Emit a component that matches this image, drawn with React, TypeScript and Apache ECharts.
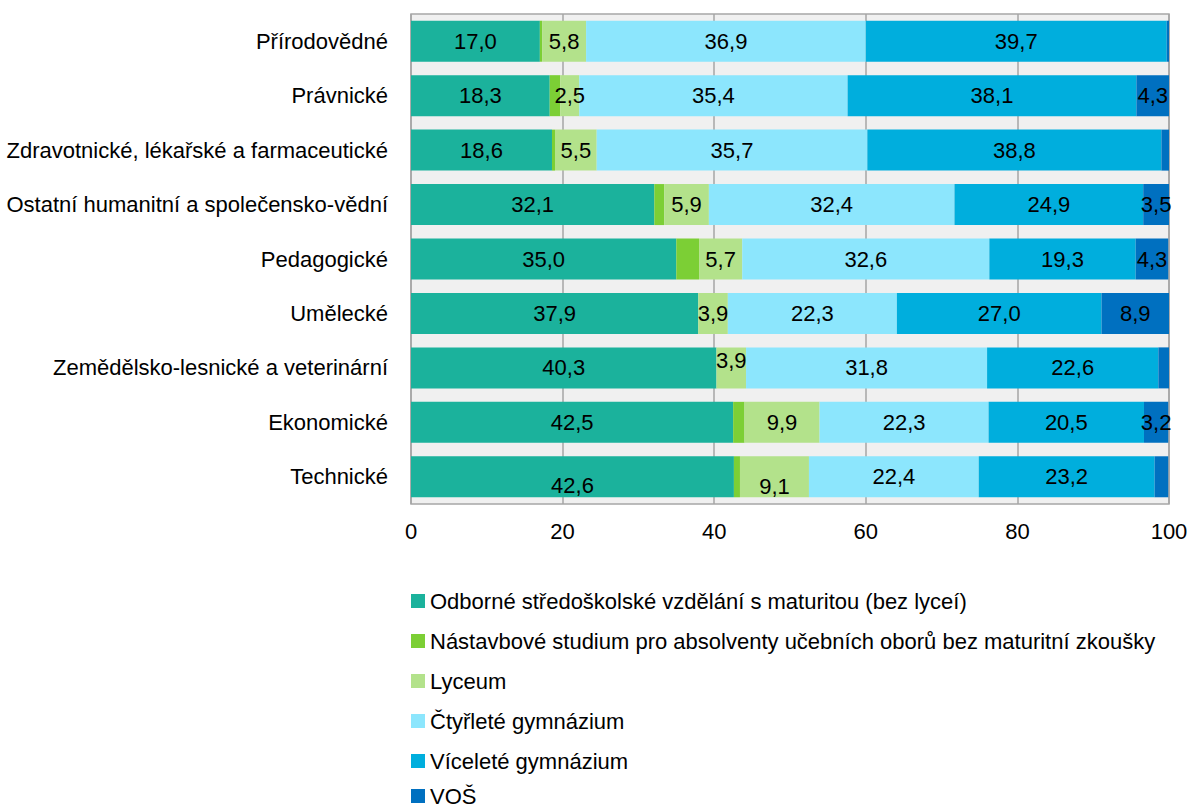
import React, { useEffect, useRef } from "react";
import * as echarts from "echarts";

const categories = [
  "Přírodovědné",
  "Právnické",
  "Zdravotnické, lékařské a farmaceutické",
  "Ostatní humanitní a společensko-vědní",
  "Pedagogické",
  "Umělecké",
  "Zemědělsko-lesnické a veterinární",
  "Ekonomické",
  "Technické",
];

const seriesNames = [
  "Odborné středoškolské vzdělání s maturitou (bez lyceí)",
  "Nástavbové studium pro absolventy učebních oborů bez maturitní zkoušky",
  "Lyceum",
  "Čtyřleté gymnázium",
  "Víceleté gymnázium",
  "VOŠ",
];

const odborne = [17.0, 18.3, 18.6, 32.1, 35.0, 37.9, 40.3, 42.5, 42.6];
const nastavbove = [0.3, 1.4, 0.4, 1.3, 3.0, 0.0, 0.0, 1.5, 0.8];
const lyceum = [5.8, 2.5, 5.5, 5.9, 5.7, 3.9, 3.9, 9.9, 9.1];
const ctyrlete = [36.9, 35.4, 35.7, 32.4, 32.6, 22.3, 31.8, 22.3, 22.4];
const vicelete = [39.7, 38.1, 38.8, 24.9, 19.3, 27.0, 22.6, 20.5, 23.2];
const vos = [0.3, 4.3, 1.1, 3.5, 4.3, 8.9, 1.4, 3.2, 1.8];

const seriesValues = [odborne, nastavbove, lyceum, ctyrlete, vicelete, vos];
const colors = ["#1bb29c", "#7ccf35", "#b3e28b", "#8ce6fd", "#00aedd", "#0070c0"];
const showLabels = [true, false, true, true, true, true];
// manual label nudges seen in the reference: [seriesIndex, categoryIndex, dx, dy]
const labelNudges: [number, number, number, number][] = [
  [0, 8, 0, 9],
  [2, 8, 0, 10],
  [2, 6, 0, -7],
];

const FONT = "'Liberation Sans', Arial, sans-serif";
const FS = 22;

export default function App() {
  const ref = useRef<HTMLDivElement>(null);
  useEffect(() => {
    if (!ref.current) return;
    const chart = echarts.init(ref.current, undefined, { renderer: "svg" });
    const fmt = (v: number) => v.toFixed(1).replace(".", ",");
    const series = seriesValues.map((vals, si) => ({
      name: seriesNames[si],
      type: "bar",
      stack: "total",
      barWidth: 41,
      itemStyle: { color: colors[si] },
      label: {
        show: showLabels[si],
        position: "inside",
        color: "#000",
        fontFamily: FONT,
        fontSize: FS,
        formatter: (p: any) => (p.value >= 2 ? fmt(p.value) : ""),
      },
      data: vals.map((v, ci) => {
        const n = labelNudges.find((x) => x[0] === si && x[1] === ci);
        return n ? { value: v, label: { offset: [n[2], n[3]] } } : v;
      }),
    }));
    const legendBase = {
      type: "plain",
      orient: "vertical",
      left: 406,
      icon: "rect",
      itemWidth: 14,
      itemHeight: 14,
      itemGap: 18,
      textStyle: { color: "#000", fontSize: FS, fontFamily: FONT },
    };
    chart.setOption({
      animation: false,
      textStyle: { fontFamily: FONT },
      grid: {
        left: 411,
        top: 14,
        right: 23,
        bottom: 306,
        show: true,
        backgroundColor: "#f0f0f0",
        borderColor: "#a6a6a6",
        borderWidth: 1.5,
        containLabel: false,
        outerBoundsMode: "none",
      },
      xAxis: {
        type: "value",
        min: 0,
        max: 100,
        interval: 20,
        axisLine: { show: false },
        axisTick: { show: false },
        splitLine: { show: true, lineStyle: { color: "#a6a6a6", width: 1.5 } },
        axisLabel: { color: "#000", fontSize: FS, fontFamily: FONT, margin: 16 },
      },
      yAxis: {
        type: "category",
        inverse: true,
        data: categories,
        axisLine: { show: false },
        axisTick: { show: false },
        axisLabel: { color: "#000", fontSize: FS, fontFamily: FONT, margin: 23 },
      },
      legend: [
        { ...legendBase, top: 585, data: seriesNames.slice(0, 5) },
        { ...legendBase, top: 780, data: seriesNames.slice(5) },
      ],
      series,
    });
    return () => chart.dispose();
  }, []);
  return (
    <div
      ref={ref}
      style={{ position: "fixed", left: 0, top: 0, width: 1192, height: 810, background: "#fff" }}
    />
  );
}
